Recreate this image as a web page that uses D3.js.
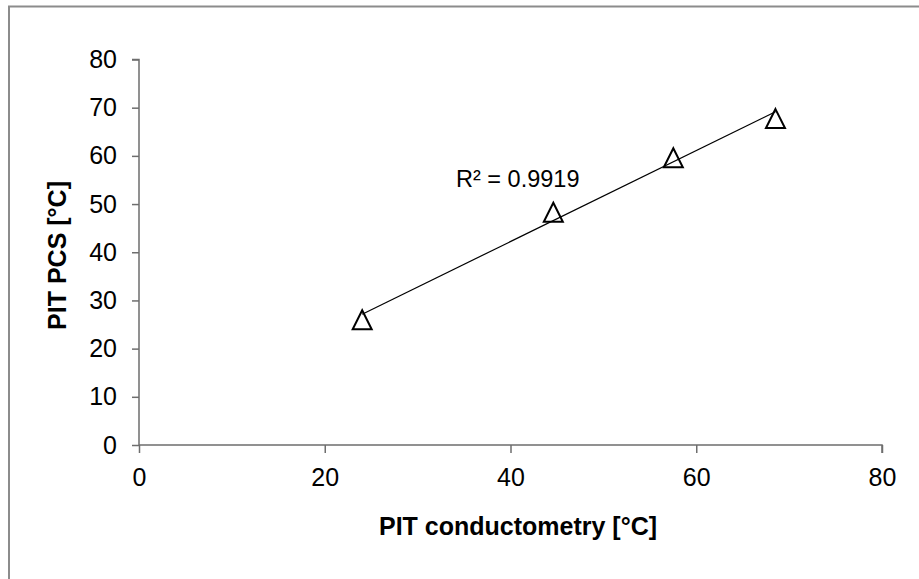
<!DOCTYPE html>
<html>
<head>
<meta charset="utf-8">
<script src="https://cdn.jsdelivr.net/npm/d3@7"></script>
<style>
  html, body { margin: 0; padding: 0; background: #fff; }
  svg { display: block; }
  text { font-family: "Liberation Sans", Arial, sans-serif; fill: #000; }
</style>
</head>
<body>
<svg id="chart" width="919" height="579"></svg>
<script>
// Phase inversion temperature: conductometry vs. PCS
const pitConductometry = [24.03, 44.61, 57.53, 68.53];
const pitPCS = [26.00, 48.31, 59.60, 67.74];
const xTicks = [0, 20, 40, 60, 80];
const yTicks = [0, 10, 20, 30, 40, 50, 60, 70, 80];
const xTitle = "PIT conductometry [°C]";
const yTitle = "PIT PCS [°C]";
const r2Label = "R² = 0.9919";

const svg = d3.select("#chart");

// outer chart frame (left and top edges)
svg.append("path")
  .attr("d", "M9,579 V6.5 H919")
  .attr("fill", "none")
  .attr("stroke", "#8c8c8c")
  .attr("stroke-width", 2);

const x = d3.scaleLinear().domain([0, 80]).range([139, 882]);
const y = d3.scaleLinear().domain([0, 80]).range([445, 59.5]);

const axisColor = "#6e6e6e";

const gx = svg.append("g")
  .attr("transform", `translate(0,${y(0)})`)
  .call(d3.axisBottom(x).tickValues(xTicks).tickSize(8).tickPadding(15).tickFormat(d3.format("d")));
const gy = svg.append("g")
  .attr("transform", `translate(${x(0)},0)`)
  .call(d3.axisLeft(y).tickValues(yTicks).tickSize(7).tickPadding(15).tickFormat(d3.format("d")));

[gx, gy].forEach(g => {
  g.select(".domain").attr("stroke", axisColor).attr("stroke-width", 1.5);
  g.selectAll(".tick line").attr("stroke", axisColor).attr("stroke-width", 1.5);
  g.selectAll(".tick text")
    .style("font-family", "'Liberation Sans', Arial, sans-serif")
    .style("font-size", "25px")
    .attr("fill", "#000");
});
gx.select(".domain").attr("d", `M${x(0)},0H${x(80)}V8`);
gy.select(".domain").attr("d", `M-7,${y(80)}H0V${y(0)}`);

// axis titles
svg.append("text")
  .attr("x", 518).attr("y", 535)
  .attr("text-anchor", "middle")
  .style("font-size", "25px").style("font-weight", "bold")
  .text(xTitle);
svg.append("text")
  .attr("transform", `translate(66,255.5) rotate(-90)`)
  .attr("text-anchor", "middle")
  .style("font-size", "25px").style("font-weight", "bold")
  .text(yTitle);

// data markers: open triangles centred on each point
const pts = pitConductometry.map((v, i) => [v, pitPCS[i]]);
const triPath = "M0,-9.5L9.5,9.5L-9.5,9.5Z";
svg.append("g").selectAll("path")
  .data(pts)
  .join("path")
  .attr("d", triPath)
  .attr("transform", d => `translate(${x(d[0])},${y(d[1])})`)
  .attr("fill", "#fff")
  .attr("stroke", "#000")
  .attr("stroke-width", 2)
  .attr("stroke-linejoin", "miter");

// least-squares trend line over the data range
const mx = d3.mean(pitConductometry), my = d3.mean(pitPCS);
const sxy = d3.sum(pts, d => (d[0] - mx) * (d[1] - my));
const sxx = d3.sum(pts, d => (d[0] - mx) ** 2);
const slope = sxy / sxx, intercept = my - slope * mx;
const [x0, x1] = d3.extent(pitConductometry);
svg.append("line")
  .attr("x1", x(x0)).attr("y1", y(intercept + slope * x0))
  .attr("x2", x(x1)).attr("y2", y(intercept + slope * x1))
  .attr("stroke", "#000")
  .attr("stroke-width", 1.2);

svg.append("text")
  .attr("x", 456).attr("y", 187)
  .style("font-size", "23.5px")
  .text(r2Label);
</script>
</body>
</html>
